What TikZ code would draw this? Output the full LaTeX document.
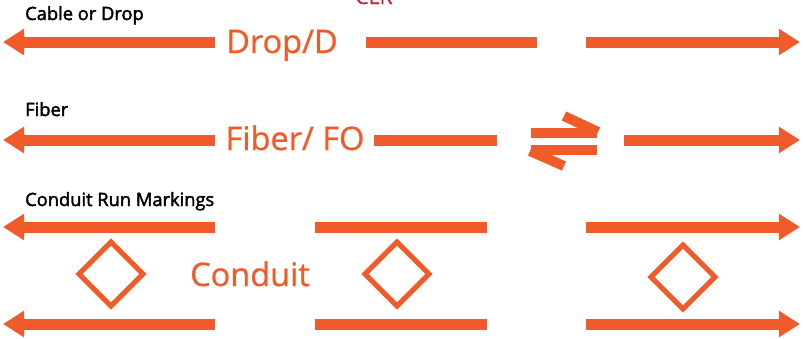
\documentclass[tikz,border=0pt]{standalone}
\usepackage{fontspec}
\setmainfont{Open Sans}
\newfontfamily\tagfont[FakeBold=2.2]{Open Sans}
\newfontfamily\bigfont[FakeBold=0.8]{Open Sans}
\usetikzlibrary{arrows.meta, positioning}
\definecolor{lineorange}{RGB}{241,91,42}
\definecolor{clrred}{RGB}{200,30,58}

\begin{document}
\begin{tikzpicture}[x=1pt, y=-1pt,
    wire/.style={lineorange, line width=11pt},
    tip/.style={-{Triangle[length=21pt,width=25pt]}},
    big/.style={text=lineorange, font=\bigfont\fontsize{32.5}{32}\selectfont, inner sep=0pt, anchor=base},
    tag/.style={font=\tagfont\fontsize{18.3}{18}\selectfont, inner sep=0pt, anchor=base west},
    boxline/.style={draw=lineorange, line width=5pt, miter limit=10}]
            \useasboundingbox (0,0) rectangle (803,338);
            \clip (0,0) rectangle (803,338);

            \node[text=clrred, font=\bigfont\fontsize{21}{21}\selectfont, inner sep=0pt, anchor=base] (clr) at (374,4) {CLR};

            % Cable or drop
            \node[tag] (cabletag) at (25,20) {Cable or Drop};
            \node[big] (drop) at (282,53) {Drop/D};
            \coordinate (d0) at (3,42);
            \coordinate (d1) at (215,42);
            \coordinate (d2) at (366,42);
            \coordinate (d3) at (537,42);
            \coordinate (d4) at (586,42);
            \coordinate (d5) at (800,42);
            \draw[wire, tip] (d1) -- (d0);
            \draw[wire] (d2) -- (d3);
            \draw[wire, tip] (d4) -- (d5);

            % Fiber
            \node[tag] (fibertag) at (25,116) {Fiber};
            \node[big] (fiber) at (295,150) {Fiber/ FO};
            \coordinate (f0) at (3,140);
            \coordinate (f1) at (215,140);
            \coordinate (f2) at (374,140);
            \coordinate (f3) at (497,140);
            \coordinate (f4) at (624,140);
            \coordinate (f5) at (800,140);
            \draw[wire, tip] (f1) -- (f0);
            \draw[wire] (f2) -- (f3);
            \draw[wire, tip] (f4) -- (f5);

            % exchange sign
            \coordinate (x1) at (531,133);
            \coordinate (x2) at (597,133);
            \coordinate (x3) at (564,116);
            \coordinate (x4) at (531,150);
            \coordinate (x5) at (597,150);
            \coordinate (x6) at (564,166);
            \draw[lineorange, line width=10pt] (x1) -- (x2);
            \draw[lineorange, line width=10pt] (x4) -- (x5);
            \draw[lineorange, line width=10pt] (x2) ++(1,-1) -- (x3);
            \draw[lineorange, line width=10pt] (x4) ++(-1,1) -- (x6);

            % Conduit
            \node[tag] (conduittag) at (25,206) {Conduit Run Markings};
            \node[big] (conduit) at (250,286) {Conduit};
            \coordinate (a0) at (3,227);
            \coordinate (a1) at (215,227);
            \coordinate (a2) at (315,227);
            \coordinate (a3) at (487,227);
            \coordinate (a4) at (586,227);
            \coordinate (a5) at (800,227);
            \coordinate (b0) at (3,324);
            \coordinate (b1) at (215,324);
            \coordinate (b2) at (315,324);
            \coordinate (b3) at (487,324);
            \coordinate (b4) at (586,324);
            \coordinate (b5) at (800,324);
            \draw[wire, tip] (a1) -- (a0);
            \draw[wire] (a2) -- (a3);
            \draw[wire, tip] (a4) -- (a5);
            \draw[wire, tip] (b1) -- (b0);
            \draw[wire] (b2) -- (b3);
            \draw[wire, tip] (b4) -- (b5);

            \draw[boxline] (111,242) -- (143,274) -- (111,306) -- (79,274) -- cycle;
            \draw[boxline] (397,242) -- (429,274) -- (397,306) -- (365,274) -- cycle;
            \draw[boxline] (683,245) -- (715,277) -- (683,309) -- (651,277) -- cycle;
        \end{tikzpicture}
\end{document}
